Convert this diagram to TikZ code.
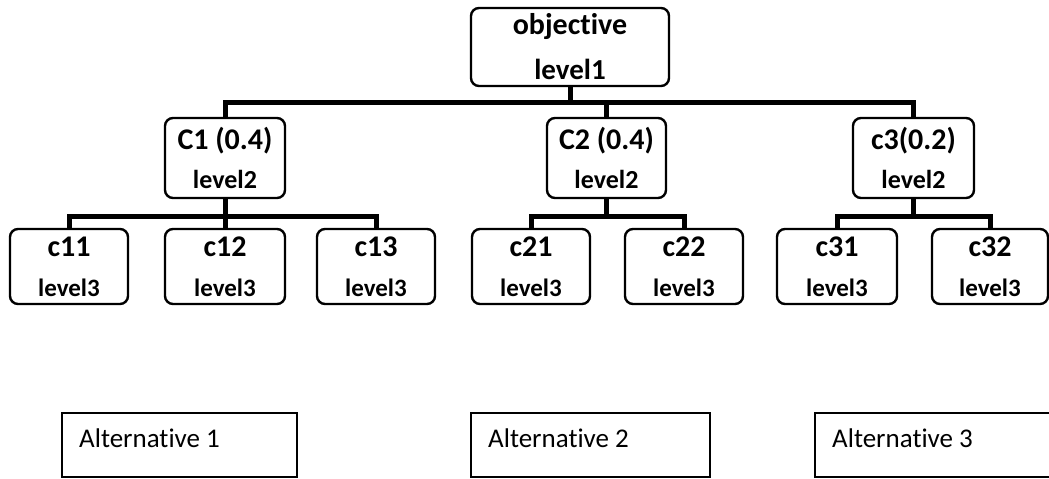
\documentclass[tikz,border=0pt]{standalone}
\usepackage{fontspec}
\setmainfont{Carlito}[Ligatures=NoCommon]
\usetikzlibrary{calc}
\newcommand{\topline}[1]{{\fontsize{30}{40}\selectfont #1}}
\tikzset{
  box/.style={draw=black, line width=2.4pt, rounded corners=8pt, fill=white, align=center, inner sep=0pt},
  lvone/.style={box, minimum width=198pt, minimum height=78pt, font=\bfseries\fontsize{29}{45}\selectfont},
  lvtwo/.style={box, minimum width=120pt, minimum height=80pt, font=\bfseries\fontsize{26}{39}\selectfont},
  lvthree/.style={box, minimum width=118pt, minimum height=75pt, font=\bfseries\fontsize{25}{40}\selectfont},
  altbox/.style={draw=black, line width=2pt, minimum height=64pt, inner sep=0pt},
  alttext/.style={anchor=west, inner sep=0pt, font=\fontsize{27}{32}\selectfont},
  bar/.style={line width=5pt, draw=black},
}
\begin{document}
\begin{tikzpicture}[x=1pt, y=-1pt]
\useasboundingbox (0,0) rectangle (1049,479);
\clip (0,0) rectangle (1049,479);
% level 1
\node[lvone] (obj) at (570,47) {\topline{objective}\\level1};
% level 2
\node[lvtwo] (c1) at (225,158) {\topline{C1 (0.4)}\\level2};
\node[lvtwo, minimum width=119pt] (c2) at (606.5,158) {\topline{C2 (0.4)}\\level2};
\node[lvtwo, minimum width=121pt] (c3) at (913.5,158) {\topline{c3(0.2)}\\level2};
% level 3
\node[lvthree] (c11) at (69,266.5) {\topline{c11}\\level3};
\node[lvthree, minimum width=120pt] (c12) at (225,266.5) {\topline{c12}\\level3};
\node[lvthree] (c13) at (376,266.5) {\topline{c13}\\level3};
\node[lvthree] (c21) at (531,266.5) {\topline{c21}\\level3};
\node[lvthree] (c22) at (684,266.5) {\topline{c22}\\level3};
\node[lvthree, minimum width=120pt] (c31) at (837,266.5) {\topline{c31}\\level3};
\node[lvthree, minimum width=116pt] (c32) at (990,266.5) {\topline{c32}\\level3};
% connectors
\foreach \ch in {c1,c2,c3}
  \draw[bar] (obj.south) -- ++(0,15) -| (\ch.north);
\foreach \ch in {c11,c12,c13}
  \draw[bar] (c1.south) -- ++(0,17) -| (\ch.north);
\foreach \ch in {c21,c22}
  \draw[bar] (c2.south) -- ++(0,17) -| (\ch.north);
\foreach \ch in {c31,c32}
  \draw[bar] (c3.south) -- ++(0,17) -| (\ch.north);
% alternatives
\node[altbox, minimum width=235pt] (alt1) at (179.5,445) {};
\node[alttext] (t1) at ($(alt1.west)+(18,-7)$) {Alternative 1};
\node[altbox, minimum width=239pt] (alt2) at (590.5,445) {};
\node[alttext] (t2) at ($(alt2.west)+(18,-7)$) {Alternative 2};
\node[altbox, minimum width=245pt] (alt3) at (937.5,445) {};
\node[alttext] (t3) at ($(alt3.west)+(18,-7)$) {Alternative 3};
\end{tikzpicture}
\end{document}
